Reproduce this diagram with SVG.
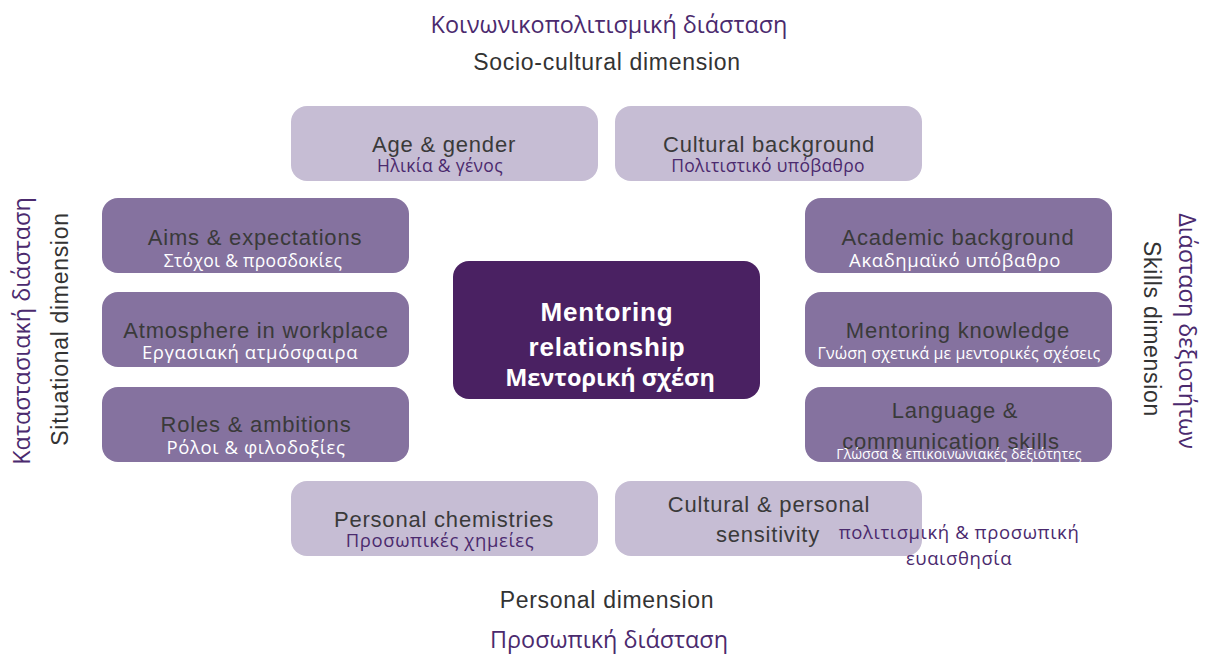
<svg xmlns="http://www.w3.org/2000/svg" width="1205" height="654" viewBox="0 0 1205 654">
<style>
.light{fill:#c6bdd4}
.mid{fill:#85729f}
.dark{fill:#4a2162}
.en{font-family:"Liberation Sans",Arial,sans-serif;font-size:22px;letter-spacing:0.8px;fill:#3a3a3a;text-anchor:middle}
.gr{font-family:"Open Sans","Noto Sans",sans-serif;font-size:17.5px;letter-spacing:0.3px;text-anchor:middle}
.gp{fill:#4b2a6e}
.gw{fill:#ffffff}
.hd{font-family:"Liberation Sans",Arial,sans-serif;font-size:23px;letter-spacing:0.7px;fill:#333;text-anchor:middle}
.hg{font-family:"Open Sans","Noto Sans",sans-serif;font-size:23.4px;fill:#4b2a6e;text-anchor:middle}
</style>
<rect width="1205" height="654" fill="#ffffff"/>
<g id="labels">
<text class="hg" x="609" y="33">Κοινωνικοπολιτισμική διάσταση</text>
<text class="hd" x="607" y="70">Socio-cultural dimension</text>
<text class="hd" x="607" y="608">Personal dimension</text>
<text class="hg" x="609" y="648">Προσωπική διάσταση</text>
<text class="hg" transform="translate(30,331) rotate(-90)">Καταστασιακή διάσταση</text>
<text class="hd" transform="translate(68,329) rotate(-90)">Situational dimension</text>
<text class="hg" transform="translate(1179,331) rotate(90)">Διάσταση δεξιοτήτων</text>
<text class="hd" transform="translate(1144,329) rotate(90)">Skills dimension</text>
</g>
<g id="age">
<rect class="light" x="291" y="106" width="307" height="75" rx="16"/>
<text class="en" x="444" y="152">Age &amp; gender</text>
<text class="gr gp" x="440" y="172">Ηλικία &amp; γένος</text>
</g>
<g id="cultural">
<rect class="light" x="615" y="106" width="307" height="75" rx="16"/>
<text class="en" x="769" y="152">Cultural background</text>
<text class="gr gp" x="768" y="172">Πολιτιστικό υπόβαθρο</text>
</g>
<g id="aims">
<rect class="mid" x="102" y="198" width="307" height="75" rx="16"/>
<text class="en" x="255" y="245">Aims &amp; expectations</text>
<text class="gr gw" x="253" y="267">Στόχοι &amp; προσδοκίες</text>
</g>
<g id="atmosphere">
<rect class="mid" x="102" y="292" width="307" height="75" rx="16"/>
<text class="en" x="256" y="338">Atmosphere in workplace</text>
<text class="gr gw" x="250" y="359" style="font-size:18.5px;letter-spacing:0.6px">Εργασιακή ατμόσφαιρα</text>
</g>
<g id="roles">
<rect class="mid" x="102" y="387" width="307" height="75" rx="16"/>
<text class="en" x="256" y="432">Roles &amp; ambitions</text>
<text class="gr gw" x="256" y="454" style="font-size:18.5px;letter-spacing:0.6px">Ρόλοι &amp; φιλοδοξίες</text>
</g>
<g id="academic">
<rect class="mid" x="805" y="198" width="307" height="75" rx="16"/>
<text class="en" x="958" y="245">Academic background</text>
<text class="gr gw" x="955" y="267" style="font-size:18.5px;letter-spacing:0.6px">Ακαδημαϊκό υπόβαθρο</text>
</g>
<g id="knowledge">
<rect class="mid" x="805" y="292" width="307" height="75" rx="16"/>
<text class="en" x="958" y="338">Mentoring knowledge</text>
<text class="gr gw" x="959" y="359" style="font-size:16px;letter-spacing:0.1px">Γνώση σχετικά με μεντορικές σχέσεις</text>
</g>
<g id="language">
<rect class="mid" x="805" y="387" width="307" height="75" rx="16"/>
<text class="en" x="955" y="418">Language &amp;</text>
<text class="en" x="951" y="449">communication skills</text>
<text class="gr gw" x="959" y="459" style="font-size:14.1px;letter-spacing:0px">Γλώσσα &amp; επικοινωνιακές δεξιότητες</text>
</g>
<g id="center">
<rect class="dark" x="453" y="261" width="307" height="138" rx="16"/>
<text class="en" x="607" y="321" style="font-size:26px;fill:#fff;font-weight:bold;letter-spacing:0.8px">Mentoring</text>
<text class="en" x="607" y="356" style="font-size:26px;fill:#fff;font-weight:bold;letter-spacing:0.8px">relationship</text>
<text class="gr gw" x="610" y="386" style="font-size:23.5px;font-weight:bold;letter-spacing:0px">Μεντορική σχέση</text>
</g>
<g id="chemistries">
<rect class="light" x="291" y="481" width="307" height="75" rx="16"/>
<text class="en" x="444" y="527">Personal chemistries</text>
<text class="gr gp" x="440" y="547" style="font-size:18.5px;letter-spacing:0.6px">Προσωπικές χημείες</text>
</g>
<g id="sensitivity">
<rect class="light" x="615" y="481" width="307" height="75" rx="16"/>
<text class="en" x="769" y="512">Cultural &amp; personal</text>
<text class="en" x="768" y="542">sensitivity</text>
<text class="gr gp" x="959" y="539" style="font-size:18.5px;letter-spacing:0.6px">πολιτισμική &amp; προσωπική</text>
<text class="gr gp" x="959" y="565" style="font-size:18.5px;letter-spacing:0.6px">ευαισθησία</text>
</g>
<g id="connectors"></g>
</svg>
